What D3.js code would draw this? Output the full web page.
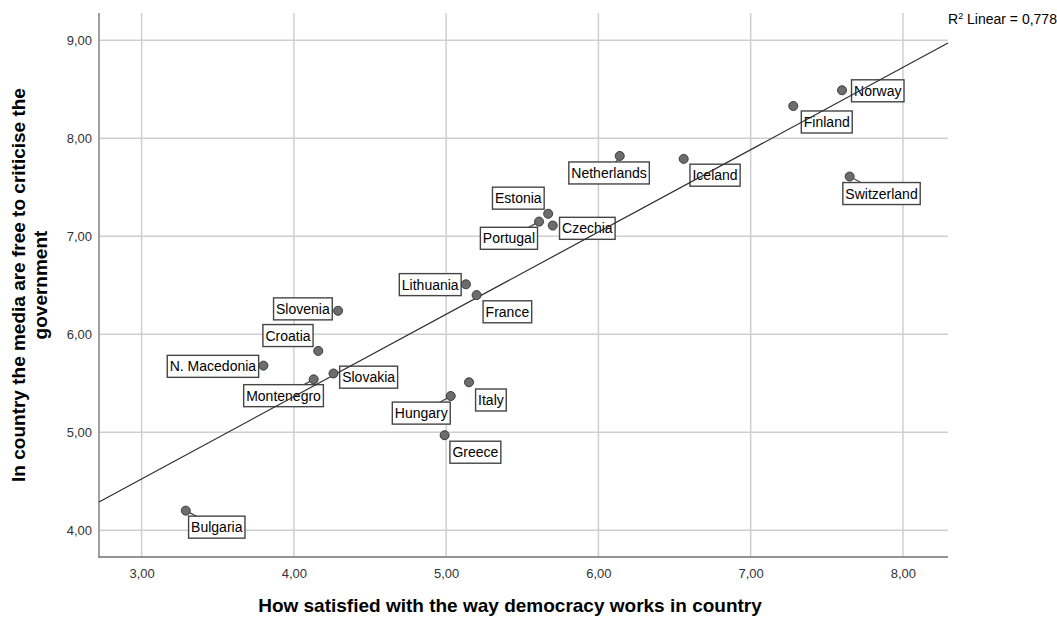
<!DOCTYPE html>
<html>
<head>
<meta charset="utf-8">
<script src="https://cdn.jsdelivr.net/npm/d3@7"></script>
<style>
  html, body { margin: 0; padding: 0; background: #fff; }
  svg { display: block; font-family: Arial, "Liberation Sans", sans-serif; }
</style>
</head>
<body>
<svg id="chart" width="1057" height="618"></svg>
<script>
// ---------------- data ----------------
const countries = ["Norway","Finland","Netherlands","Iceland","Switzerland","Estonia","Portugal","Czechia",
  "Lithuania","France","Slovenia","Croatia","N. Macedonia","Slovakia","Montenegro","Italy","Hungary","Greece","Bulgaria"];
const satisfaction = [7.60, 7.28, 6.14, 6.56, 7.65, 5.67, 5.61, 5.70,
  5.13, 5.20, 4.29, 4.16, 3.80, 4.26, 4.13, 5.15, 5.03, 4.99, 3.29];
const mediaFreedom = [8.49, 8.33, 7.82, 7.79, 7.61, 7.23, 7.15, 7.11,
  6.51, 6.40, 6.24, 5.83, 5.68, 5.60, 5.54, 5.51, 5.37, 4.97, 4.20];
const xTicks = [3, 4, 5, 6, 7, 8];
const yTicks = [4, 5, 6, 7, 8, 9];
const xDomain = [2.72, 8.296];
const yDomain = [3.727, 9.279];
const fitIntercept = 2.004;
const fitSlope = 0.840;
const rSquaredText = "0,778";
const xTitle = "How satisfied with the way democracy works in country";
const yTitleLines = ["In country the media are free to criticise the", "government"];

// ---------------- layout (label placement, px) ----------------
// [dx, dy, align, leader]: align "start" -> dx is box left edge offset from point, "end" -> box right edge
const labelLayout = {
  "Norway": [9.5, -10.5, "start", false],
  "Finland": [8, 5, "start", false],
  "Netherlands": [29.6, 6, "end", true],
  "Iceland": [6.3, 5.3, "start", false],
  "Switzerland": [-6.8, 6, "start", true],
  "Estonia": [-4, -26.6, "end", false],
  "Portugal": [-1.5, 5.7, "end", true],
  "Czechia": [6.8, -8.2, "start", false],
  "Lithuania": [-4.8, -10.7, "end", false],
  "France": [6.5, 5.7, "start", false],
  "Slovenia": [-5.8, -12.9, "end", false],
  "Croatia": [-5.2, -26.4, "end", false],
  "N. Macedonia": [-4.8, -10.3, "end", false],
  "Slovakia": [6.2, -7.3, "start", false],
  "Montenegro": [9.7, 5.3, "end", true],
  "Italy": [6.6, 6.7, "start", false],
  "Hungary": [-0.5, 6.1, "end", true],
  "Greece": [5.3, 6, "start", false],
  "Bulgaria": [2.8, 5.5, "start", true]
};

const plot = { left: 99, top: 13, right: 948, bottom: 557 };
const svg = d3.select("#chart");

const x = d3.scaleLinear().domain(xDomain).range([plot.left, plot.right]);
const y = d3.scaleLinear().domain(yDomain).range([plot.bottom, plot.top]);
const fmt = v => d3.format(".2f")(v).replace(".", ",");

// grid
const grid = svg.append("g").attr("stroke", "#cfcfcf").attr("stroke-width", 1.5);
grid.selectAll("line.vx").data(xTicks).join("line")
  .attr("x1", d => x(d)).attr("x2", d => x(d))
  .attr("y1", plot.top).attr("y2", plot.bottom);
grid.selectAll("line.hy").data(yTicks).join("line")
  .attr("x1", plot.left).attr("x2", plot.right)
  .attr("y1", d => y(d)).attr("y2", d => y(d));

// axes
const xAxis = svg.append("g").attr("transform", `translate(0,${plot.bottom})`)
  .call(d3.axisBottom(x).tickValues(xTicks).tickFormat(fmt).tickSize(0).tickPadding(12));
const yAxis = svg.append("g").attr("transform", `translate(${plot.left},0)`)
  .call(d3.axisLeft(y).tickValues(yTicks).tickFormat(fmt).tickSize(0).tickPadding(7));
[xAxis, yAxis].forEach(a => {
  a.select(".domain").remove();
  a.selectAll("text").attr("font-size", 13).attr("fill", "#333")
    .attr("font-family", "Arial, 'Liberation Sans', sans-serif");
});
svg.append("line").attr("x1", plot.left).attr("x2", plot.left)
  .attr("y1", plot.top).attr("y2", plot.bottom)
  .attr("stroke", "#8a8a8a").attr("stroke-width", 1.6);
svg.append("line").attr("x1", plot.left - 0.8).attr("x2", plot.right)
  .attr("y1", plot.bottom).attr("y2", plot.bottom)
  .attr("stroke", "#6f6f6f").attr("stroke-width", 1.6);

// axis titles
svg.append("text")
  .attr("x", 510).attr("y", 612)
  .attr("text-anchor", "middle")
  .attr("font-size", 19).attr("font-weight", "bold").attr("fill", "#000")
  .text(xTitle);
const yBase = [25, 46.5];
yTitleLines.forEach((t, i) => {
  svg.append("text")
    .attr("transform", `translate(${yBase[i]},${(plot.top + plot.bottom) / 2}) rotate(-90)`)
    .attr("text-anchor", "middle")
    .attr("font-size", 19).attr("font-weight", "bold").attr("fill", "#000")
    .text(t);
});

// points data
const pts = countries.map((c, i) => ({ name: c, xv: satisfaction[i], yv: mediaFreedom[i] }));

// labels (measure text first)
const labelG = svg.append("g");
const leaderG = labelG.append("g");
const boxG = labelG.append("g");
const padX = 2.5, boxH = 22;
pts.forEach(p => {
  const px = x(p.xv), py = y(p.yv);
  const g = boxG.append("g");
  const rect = g.append("rect");
  const txt = g.append("text").attr("font-size", 14).attr("fill", "#000").text(p.name);
  const w = txt.node().getComputedTextLength() + padX * 2;
  const [dx, dy, align, leader] = labelLayout[p.name];
  const bx = align === "start" ? px + dx : px + dx - w;
  const by = py + dy;
  rect.attr("x", bx).attr("y", by).attr("width", w).attr("height", boxH)
    .attr("fill", "#fff").attr("stroke", "#454545").attr("stroke-width", 1.4);
  txt.attr("x", bx + padX).attr("y", by + 16);
  if (leader) {
    leaderG.append("line")
      .attr("x1", px).attr("y1", py).attr("x2", bx + w / 2).attr("y2", by + boxH / 2)
      .attr("stroke", "#454545").attr("stroke-width", 1.2);
  }
});

// regression line
svg.append("line")
  .attr("x1", x(xDomain[0])).attr("y1", y(fitIntercept + fitSlope * xDomain[0]))
  .attr("x2", x(xDomain[1])).attr("y2", y(fitIntercept + fitSlope * xDomain[1]))
  .attr("stroke", "#2e2e2e").attr("stroke-width", 1.2);

// points
svg.append("g").selectAll("circle").data(pts).join("circle")
  .attr("cx", d => x(d.xv)).attr("cy", d => y(d.yv)).attr("r", 4.5)
  .attr("fill", "#6d6d6d").attr("stroke", "#3a3a3a").attr("stroke-width", 1);

// R² annotation
const r2 = svg.append("text").attr("x", 948).attr("y", 24)
  .attr("font-size", 14).attr("fill", "#000");
r2.append("tspan").text("R");
r2.append("tspan").attr("font-size", 9).attr("dy", -5).text("2");
r2.append("tspan").attr("dy", 5).text(" Linear = " + rSquaredText);
</script>
</body>
</html>
